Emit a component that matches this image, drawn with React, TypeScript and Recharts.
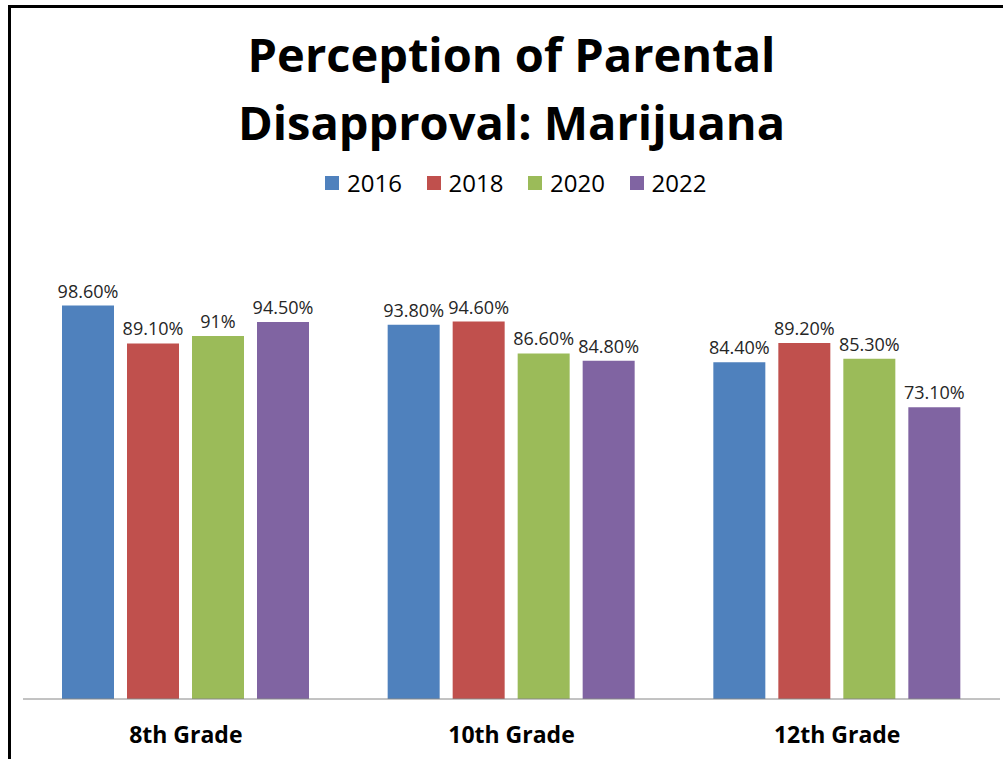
import { BarChart, Bar, XAxis, YAxis, LabelList } from 'recharts';

const grades = ['8th Grade', '10th Grade', '12th Grade'];
const years = ['2016', '2018', '2020', '2022'];
const colors = ['#4F81BD', '#C0504D', '#9BBB59', '#8064A2'];
const v2016 = [98.6, 93.8, 84.4];
const v2018 = [89.1, 94.6, 89.2];
const v2020 = [91, 86.6, 85.3];
const v2022 = [94.5, 84.8, 73.1];

const seriesValues = [v2016, v2018, v2020, v2022];

const data = grades.map((grade, i) => {
  const row: Record<string, string | number> = { grade };
  years.forEach((y, s) => {
    row[y] = seriesValues[s][i];
  });
  return row;
});

const fmt = (v: number) => (Number.isInteger(v) ? `${v}%` : `${v.toFixed(2)}%`);

const font = '"Open Sans", "Noto Sans", sans-serif';

export default function App() {
  return (
    <div
      style={{
        position: 'absolute',
        left: 0,
        top: 0,
        width: 1003,
        height: 759,
        background: '#fff',
        fontFamily: font,
        overflow: 'hidden',
      }}
    >
      {/* frame, only top and left edges show in the crop */}
      <div
        style={{
          position: 'absolute',
          left: 8,
          top: 5,
          width: 1003,
          height: 760,
          borderTop: '3px solid #000',
          borderLeft: '3px solid #000',
        }}
      />
      <div
        style={{
          position: 'absolute',
          left: 0,
          top: 20,
          width: 1023,
          textAlign: 'center',
          fontSize: 47,
          fontWeight: 700,
          lineHeight: '68px',
          color: '#000',
        }}
      >
        Perception of Parental
        <br />
        Disapproval: Marijuana
      </div>
      <div style={{ position: 'absolute', top: 168, left: 325, display: 'flex' }}>
        {years.map((y, i) => (
          <div key={y} style={{ display: 'flex', alignItems: 'center', width: 101.5 }}>
            <span style={{ width: 14, height: 14, background: colors[i], marginRight: 8 }} />
            <span style={{ fontSize: 24, color: '#000', lineHeight: '30px' }}>{y}</span>
          </div>
        ))}
      </div>
      <BarChart
        width={1003}
        height={759}
        data={data}
        margin={{ top: 300, right: 3, left: 23, bottom: 0 }}
        barSize={52}
        barGap={13}
        style={{ position: 'absolute', left: 0, top: 0, fontFamily: font }}
      >
        <XAxis
          dataKey="grade"
          axisLine={{ stroke: '#868686', strokeWidth: 1 }}
          tickLine={false}
          tickMargin={22}
          height={60}
          tick={{ fontSize: 23, fontWeight: 700, fill: '#000' }}
        />
        <YAxis hide domain={[0, 100]} />
        {years.map((y, i) => (
          <Bar key={y} dataKey={y} fill={colors[i]} isAnimationActive={false}>
            <LabelList
              dataKey={y}
              position="top"
              offset={8}
              formatter={(v: number) => fmt(v)}
              style={{ fontSize: 18, fill: '#262626' }}
            />
          </Bar>
        ))}
      </BarChart>
    </div>
  );
}
